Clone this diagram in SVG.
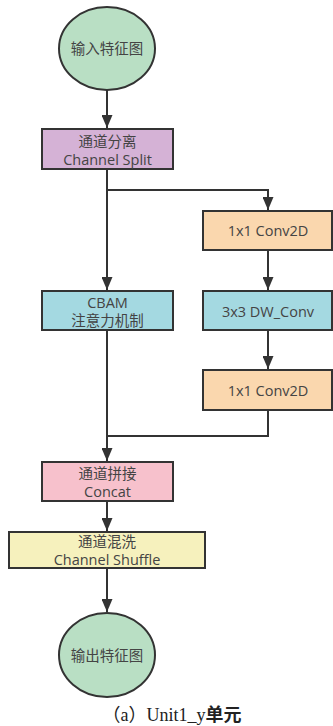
<svg xmlns="http://www.w3.org/2000/svg" width="333" height="726" viewBox="0 0 333 726">
<style>
.n{stroke:#333;stroke-width:2}
.t{font-family:"Open Sans","Noto Sans CJK SC",sans-serif;font-size:14.5px;fill:#444;text-anchor:middle}
.c{fill:none;stroke:#333;stroke-width:2}
</style>
<defs>
<marker id="a" viewBox="0 0 13 11" refX="13" refY="5.5" markerWidth="6.5" markerHeight="5.5" orient="auto" markerUnits="strokeWidth">
<path d="M0,0L13,5.5L0,11z" fill="#333"/>
</marker>
</defs>
<rect width="333" height="726" fill="#fff"/>
<g id="connectors">
<path class="c" d="M107,90V128" marker-end="url(#a)"/>
<path class="c" d="M107,169V290" marker-end="url(#a)"/>
<path class="c" d="M107,190H268V210" marker-end="url(#a)"/>
<path class="c" d="M268,250V290" marker-end="url(#a)"/>
<path class="c" d="M268,330V369" marker-end="url(#a)"/>
<path class="c" d="M107,330V461" marker-end="url(#a)"/>
<path class="c" d="M268,410V436H107"/>
<path class="c" d="M107,501V531" marker-end="url(#a)"/>
<path class="c" d="M107,568V612" marker-end="url(#a)"/>
</g>
<g id="input">
<ellipse class="n" cx="107" cy="48.5" rx="48" ry="41.5" fill="#b9dfc4"/>
<text class="t" x="107" y="54">输入特征图</text>
</g>
<g id="split">
<rect class="n" x="42" y="129" width="131" height="40" fill="#d5b2d6"/>
<text class="t" x="107.5" y="147">通道分离</text>
<text class="t" x="107.5" y="165">Channel Split</text>
</g>
<g id="conv1">
<rect class="n" x="203" y="211" width="129" height="39" fill="#fad7ae"/>
<text class="t" x="268" y="236">1x1 Conv2D</text>
</g>
<g id="cbam">
<rect class="n" x="42" y="291" width="131" height="39" fill="#a4d9e1"/>
<text class="t" x="107.5" y="308">CBAM</text>
<text class="t" x="107.5" y="326">注意力机制</text>
</g>
<g id="dwconv">
<rect class="n" x="203" y="291" width="129" height="39" fill="#a4d9e1"/>
<text class="t" x="268" y="316.5">3x3 DW_Conv</text>
</g>
<g id="conv2">
<rect class="n" x="203" y="370" width="129" height="40" fill="#fad7ae"/>
<text class="t" x="268" y="395.5">1x1 Conv2D</text>
</g>
<g id="concat">
<rect class="n" x="42" y="462" width="131" height="39" fill="#f7c1cc"/>
<text class="t" x="107.5" y="479">通道拼接</text>
<text class="t" x="107.5" y="497">Concat</text>
</g>
<g id="shuffle">
<rect class="n" x="9" y="532" width="196" height="36" fill="#f6f1bd"/>
<text class="t" x="107" y="546.5">通道混洗</text>
<text class="t" x="107" y="564.5">Channel Shuffle</text>
</g>
<g id="output">
<ellipse class="n" cx="107" cy="655" rx="48" ry="42" fill="#b9dfc4"/>
<text class="t" x="107" y="660.5">输出特征图</text>
</g>
<text x="172" y="721" font-family="'Liberation Serif','Noto Sans CJK SC',serif" font-size="18" fill="#222" text-anchor="middle">（a）Unit1_y<tspan font-weight="bold">单元</tspan></text>
</svg>
